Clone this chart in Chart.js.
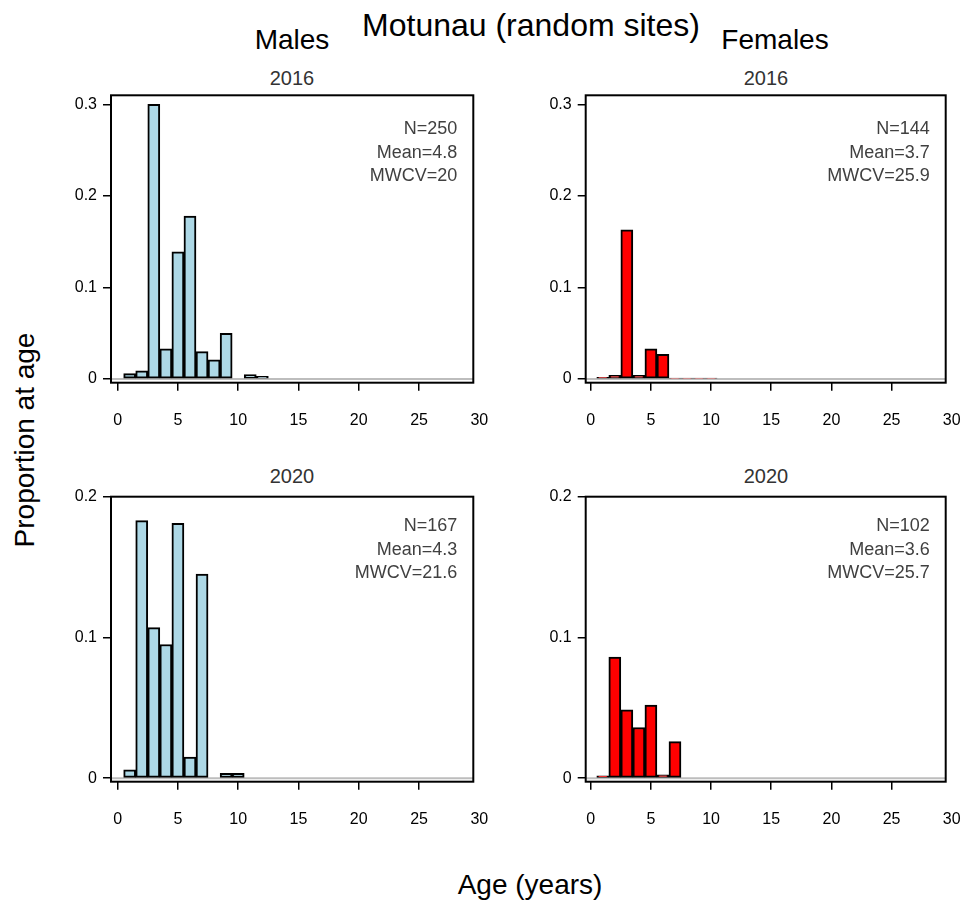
<!DOCTYPE html>
<html>
<head>
<meta charset="utf-8">
<title>Motunau (random sites)</title>
<script src="https://cdn.jsdelivr.net/npm/chart.js@4"></script>
<style>
    body { margin: 0; background: #fff; }
    #page { position: relative; width: 963px; height: 900px; font-family: "Liberation Sans", Arial, sans-serif; }
    .label { position: absolute; transform: translate(-50%, -50%); white-space: nowrap; color: #000; }
    .year { font-size: 20px; color: #333; }
    canvas { position: absolute; }
</style>
</head>
<body>
<div id="page">
    <div class="label" style="left:531px;top:25px;font-size:32px">Motunau (random sites)</div>
    <div class="label" style="left:292px;top:40px;font-size:28px">Males</div>
    <div class="label" style="left:775px;top:40px;font-size:28px">Females</div>
    <div class="label year" style="left:292px;top:78px">2016</div>
    <div class="label year" style="left:766px;top:78px">2016</div>
    <div class="label year" style="left:292px;top:476px">2020</div>
    <div class="label year" style="left:766px;top:476px">2020</div>
    <div class="label" style="left:25px;top:440px;font-size:28px;transform:translate(-50%,-50%) rotate(-90deg)">Proportion at age</div>
    <div class="label" style="left:530px;top:885px;font-size:28px">Age (years)</div>
    <canvas id="chart-m2016" width="450" height="350" style="left:40px;top:85px"></canvas>
    <canvas id="chart-f2016" width="448" height="350" style="left:515px;top:85px"></canvas>
    <canvas id="chart-m2020" width="450" height="350" style="left:40px;top:486px"></canvas>
    <canvas id="chart-f2020" width="448" height="350" style="left:515px;top:486px"></canvas>
</div>
<script>
// proportion at age, ages 1-12
const ages = [1, 2, 3, 4, 5, 6, 7, 8, 9, 10, 11, 12];
const males2016 = [0.006, 0.009, 0.300, 0.033, 0.139, 0.178, 0.030, 0.021, 0.050, 0, 0.005, 0.003];
const females2016 = [0.002, 0.004, 0.163, 0.004, 0.033, 0.027, 0.001, 0.001, 0.001, 0.001, 0, 0];
const males2020 = [0.006, 0.183, 0.107, 0.095, 0.181, 0.015, 0.145, 0, 0.0035, 0.0035, 0, 0];
const females2020 = [0.0016, 0.086, 0.0485, 0.036, 0.052, 0.0024, 0.026, 0, 0, 0, 0, 0];

const stats = {
    m2016: ["N=250", "Mean=4.8", "MWCV=20"],
    f2016: ["N=144", "Mean=3.7", "MWCV=25.9"],
    m2020: ["N=167", "Mean=4.3", "MWCV=21.6"],
    f2020: ["N=102", "Mean=3.6", "MWCV=25.7"]
};

const xTicks = [0, 5, 10, 15, 20, 25, 30];
const yTicks2016 = [0, 0.1, 0.2, 0.3];
const yTicks2020 = [0, 0.1, 0.2];

const FONT = '"Liberation Sans", Arial, sans-serif';
const X_MAX = 29.5;


// box round the plot, grey zero line, N / Mean / MWCV text
const panelDecor = {
    id: 'panelDecor',
    beforeDatasetsDraw(chart) {
        const { ctx, chartArea } = chart;
        const y0 = chart.scales.y.getPixelForValue(0);
        ctx.save();
        ctx.strokeStyle = '#bdbdbd';
        ctx.lineWidth = 2;
        ctx.beginPath();
        ctx.moveTo(chartArea.left, y0);
        ctx.lineTo(chartArea.right, y0);
        ctx.stroke();
        ctx.restore();
    },
    afterDraw(chart, args, opts) {
        const { ctx, chartArea } = chart;
        ctx.save();
        ctx.strokeStyle = '#000';
        ctx.lineWidth = 2;
        ctx.strokeRect(chartArea.left, chartArea.top, chartArea.right - chartArea.left, chartArea.bottom - chartArea.top);
        ctx.fillStyle = '#404040';
        ctx.font = '18px ' + FONT;
        ctx.textAlign = 'right';
        ctx.textBaseline = 'middle';
        opts.lines.forEach((line, i) => {
            ctx.fillText(line, chartArea.right - 16, chartArea.top + opts.top + i * 23.5);
        });
        ctx.restore();
    }
};


function makePanel(id, values, colour, p) {
    return new Chart(document.getElementById(id), {
        type: 'bar',
        data: {
            datasets: [{
                data: ages.map((a, i) => ({ x: a, y: values[i] })),
                backgroundColor: colour,
                borderColor: '#000',
                borderWidth: 2,
                borderSkipped: false,
                barPercentage: 1,
                categoryPercentage: 1
            }]
        },
        options: {
            responsive: false,
            animation: false,
            layout: { padding: { left: 0, right: p.padRight, top: p.padTop, bottom: 0 } },
            plugins: {
                legend: { display: false },
                tooltip: { enabled: false },
                panelDecor: { lines: p.lines, top: p.textTop }
            },
            scales: {
                x: {
                    type: 'linear',
                    offset: false,
                    min: p.xMin,
                    max: X_MAX,
                    afterBuildTicks: s => { s.ticks = xTicks.map(v => ({ value: v })); },
                    afterFit: s => { s.height = p.xHeight; s.paddingLeft = 0; s.paddingRight = 0; },
                    border: { display: false },
                    grid: {
                        offset: false,
                        drawOnChartArea: false,
                        tickLength: 8,
                        lineWidth: 1.5,
                        color: c => (c.tick && c.tick.value > X_MAX) ? 'rgba(0,0,0,0)' : '#000'
                    },
                    ticks: {
                        autoSkip: false, maxRotation: 0, padding: 20,
                        color: '#000', font: { family: FONT, size: 16 },
                        callback: v => String(v)
                    }
                },
                y: {
                    min: p.yMin,
                    max: p.yMax,
                    afterBuildTicks: s => { s.ticks = p.yTicks.map(v => ({ value: v })); },
                    afterFit: s => { s.width = p.yWidth; s.paddingTop = 0; s.paddingBottom = 0; },
                    border: { display: false },
                    grid: { drawOnChartArea: false, tickLength: 8, lineWidth: 1.5, color: '#000' },
                    ticks: {
                        padding: 6,
                        color: '#000', font: { family: FONT, size: 16 },
                        callback: v => String(v)
                    }
                }
            }
        },
        plugins: [panelDecor]
    });
};


const top2016 = { yMin: -0.004, yMax: 0.31, yTicks: yTicks2016, padTop: 10.3, xHeight: 52.3, textTop: 34 };
const top2020 = { yMin: -0.0025, yMax: 0.2, yTicks: yTicks2020, padTop: 10.7, xHeight: 54.3, textTop: 29.5 };
const leftCol = { xMin: -0.55, yWidth: 71, padRight: 16.7 };
const rightCol = { xMin: -0.42, yWidth: 70.7, padRight: 17.3 };

makePanel("chart-m2016", males2016, '#ADD8E6', { ...top2016, ...leftCol, lines: stats.m2016 });
makePanel("chart-f2016", females2016, '#FF0000', { ...top2016, ...rightCol, lines: stats.f2016 });
makePanel("chart-m2020", males2020, '#ADD8E6', { ...top2020, ...leftCol, lines: stats.m2020 });
makePanel("chart-f2020", females2020, '#FF0000', { ...top2020, ...rightCol, lines: stats.f2020 });
</script>
</body>
</html>
